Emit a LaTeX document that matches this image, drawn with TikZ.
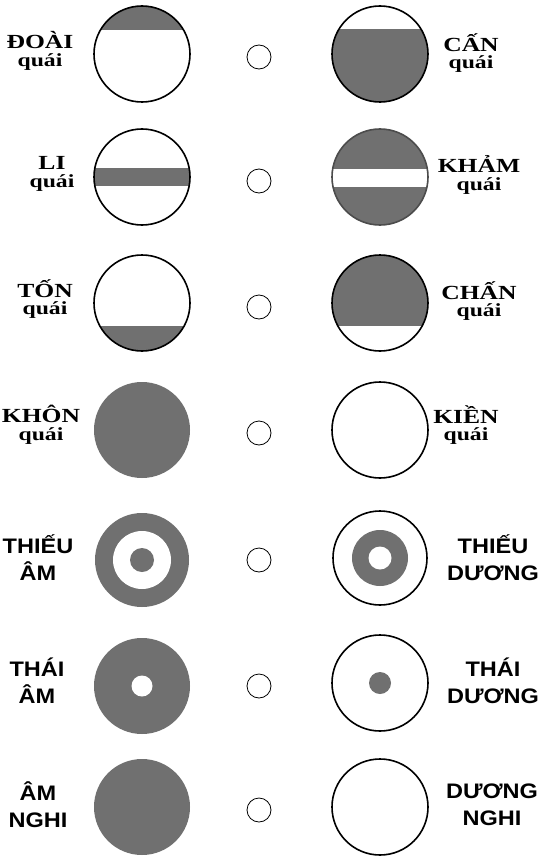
\documentclass[tikz,border=0pt]{standalone}
\usepackage{fontspec}
\setmainfont{Liberation Serif}
\newfontfamily\trifont[FakeStretch=1.28]{Liberation Serif}
\newfontfamily\sanslbl[FakeStretch=1.12]{Liberation Sans}
\definecolor{gcol}{gray}{0.44}
\begin{document}
\begin{tikzpicture}[x=1pt,y=-1pt,
  bigring/.style={draw=black,line width=1.6pt},
  smallring/.style={draw=black,line width=0.8pt},
  trilbl/.style={font=\trifont\bfseries\fontsize{20}{17.5}\selectfont,align=center,inner sep=0pt},
  sanslabel/.style={font=\sanslbl\bfseries\fontsize{21}{27}\selectfont,align=center,inner sep=0pt}]
\useasboundingbox (0,0) rectangle (541,856);
\fill[white] (0,0) rectangle (541,856);
\newcommand{\qq}{\fontsize{18.5}{17.5}\selectfont qu\'ai}
% ---------- row centres ----------
\coordinate (L1) at (142,54);   \coordinate (R1) at (380,54);
\coordinate (L2) at (142,177);  \coordinate (R2) at (380,177);
\coordinate (L3) at (142,303);  \coordinate (R3) at (380,303);
\coordinate (L4) at (142,430);  \coordinate (R4) at (380,430);
\coordinate (L5) at (142,560);  \coordinate (R5) at (380,558);
\coordinate (L6) at (142,686);  \coordinate (R6) at (380,683);
\coordinate (L7) at (142,807);  \coordinate (R7) at (380,807);
% ---------- small circles ----------
\foreach \y [count=\i] in {57,181,307,433,560,686,810}{
  \node[smallring,circle,minimum size=24pt,inner sep=0pt] (S\i) at (259,\y) {};
}
% ---------- row 1 ----------
\begin{scope}\clip (L1) circle[radius=48pt]; \fill[gcol] (L1) ++(-50,-50) rectangle ++(100,26); \end{scope}
\draw[bigring] (L1) circle[radius=48pt];
\begin{scope}\clip (R1) circle[radius=48pt]; \fill[gcol] (R1) ++(-50,-25) rectangle ++(100,80); \end{scope}
\draw[bigring] (R1) circle[radius=48pt];
% ---------- row 2 ----------
\begin{scope}\clip (L2) circle[radius=48pt]; \fill[gcol] (L2) ++(-50,-9) rectangle ++(100,18); \end{scope}
\draw[bigring] (L2) circle[radius=48pt];
\fill[gcol] (R2) circle[radius=48pt];
\begin{scope}\clip (R2) circle[radius=48pt]; \fill[white] (R2) ++(-50,-8) rectangle ++(100,18); \end{scope}
\draw[bigring,draw=black!70] (R2) circle[radius=48pt];
% ---------- row 3 ----------
\begin{scope}\clip (L3) circle[radius=48pt]; \fill[gcol] (L3) ++(-50,23) rectangle ++(100,30); \end{scope}
\draw[bigring] (L3) circle[radius=48pt];
\begin{scope}\clip (R3) circle[radius=48pt]; \fill[gcol] (R3) ++(-50,-50) rectangle ++(100,73); \end{scope}
\draw[bigring] (R3) circle[radius=48pt];
% ---------- row 4 ----------
\fill[gcol] (L4) circle[radius=48pt];
\draw[bigring] (R4) circle[radius=48pt];
% ---------- row 5 ----------
\fill[gcol] (L5) circle[radius=47pt];
\fill[white] (L5) circle[radius=29pt];
\fill[gcol] (L5) circle[radius=12pt];
\draw[bigring] (R5) circle[radius=47pt];
\fill[gcol] (R5) circle[radius=28pt];
\fill[white] (R5) circle[radius=11.5pt];
% ---------- row 6 ----------
\fill[gcol] (L6) circle[radius=48pt];
\fill[white] (L6) circle[radius=10.5pt];
\draw[bigring] (R6) circle[radius=48pt];
\fill[gcol] (R6) circle[radius=11pt];
% ---------- row 7 ----------
\fill[gcol] (L7) circle[radius=48pt];
\draw[bigring] (R7) circle[radius=48pt];
% ---------- labels ----------
\node[trilbl] (t1) at (40,51)  {ĐOÀI\\\qq};
\node[trilbl] (u1) at (471,53) {CẤN\\\qq};
\node[trilbl] (t2) at (52,174) {LI\\\qq};
\node[trilbl] (u2) at (479,175) {KHẢM\\\qq};
\node[trilbl] (t3) at (45,299) {TỐN\\\qq};
\node[trilbl] (u3) at (479,301) {CHẤN\\\qq};
\node[trilbl] (t4) at (41,425) {KHÔN\\\qq};
\node[trilbl] (u4) at (466,425) {KIỀN\\\qq};
\node[sanslabel] (t5) at (38,558) {THIẾU\\ÂM};
\node[sanslabel] (u5) at (493,558) {THIẾU\\DƯƠNG};
\node[sanslabel] (t6) at (37,681) {THÁI\\ÂM};
\node[sanslabel] (u6) at (493,681) {THÁI\\DƯƠNG};
\node[sanslabel] (t7) at (38,805) {ÂM\\NGHI};
\node[sanslabel] (u7) at (492,805) {DƯƠNG\\NGHI};
\end{tikzpicture}
\end{document}
